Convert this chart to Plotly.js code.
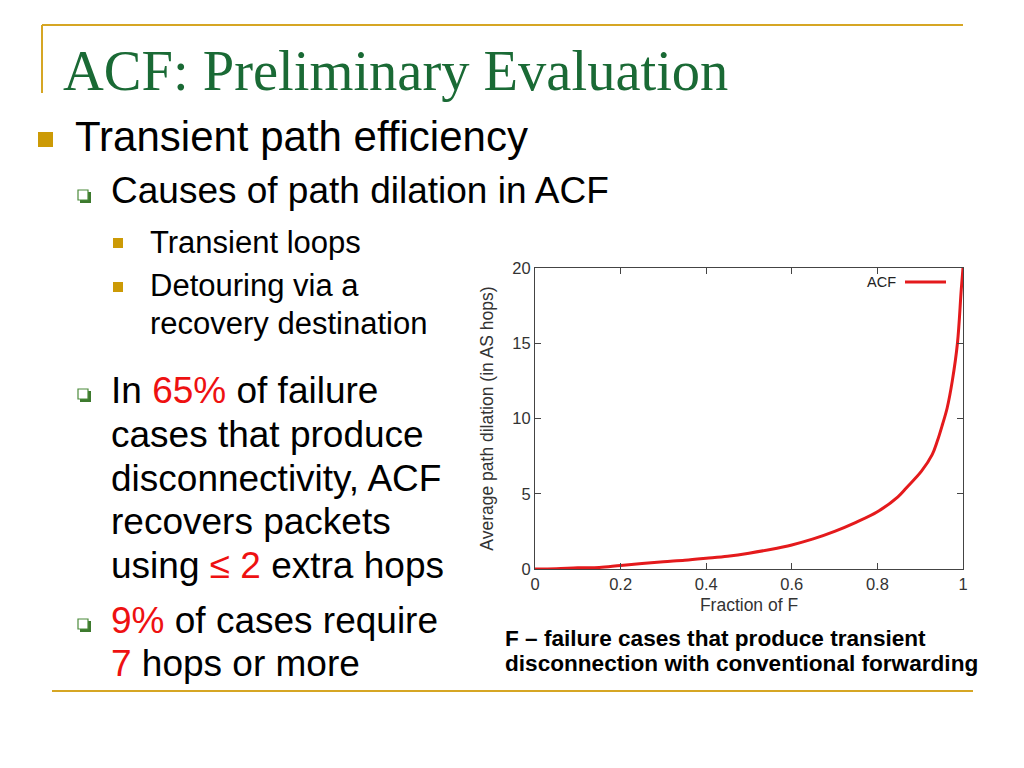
<!DOCTYPE html>
<html>
<head>
<meta charset="utf-8">
<script src="https://cdn.plot.ly/plotly-3.0.1.min.js"></script>
<style>html,body{margin:0;padding:0;background:#fff;}#chart{width:1024px;height:768px;}</style>
</head>
<body>
<div id="chart"></div>
<script>
// ---- data ----
var fraction = [0, 0.05, 0.1, 0.15, 0.2, 0.25, 0.3, 0.35, 0.4, 0.45, 0.5, 0.55, 0.6, 0.65, 0.7, 0.75, 0.8, 0.848, 0.868, 0.903, 0.928, 0.94, 0.952, 0.963, 0.975, 0.987, 0.996, 1.0];
var dilation = [0, 0.02, 0.08, 0.1, 0.24, 0.36, 0.48, 0.58, 0.71, 0.85, 1.05, 1.3, 1.6, 2.0, 2.5, 3.1, 3.8, 4.8, 5.4, 6.5, 7.6, 8.5, 9.6, 10.7, 12.5, 15.0, 18.6, 20];
var xTicks = [0, 0.2, 0.4, 0.6, 0.8, 1];
var xTickLabels = ["0", "0.2", "0.4", "0.6", "0.8", "1"];
var yTicks = [0, 5, 10, 15, 20];
var yTickLabels = ["0", "5", "10", "15", "20"];
var seriesName = "ACF";

var W = 1024, H = 768;
function px(x) { return x / W; }
function py(y) { return 1 - y / H; }

var GOLD = "#d6a624";
var BULLET = "#cc9a06";
var GREEN = "#1a6a35";
var RED = "#ee1111";
var SANS = "Liberation Sans, Arial, sans-serif";

var trace = {
  x: fraction, y: dilation, type: "scatter", mode: "lines", name: seriesName,
  line: {color: "#e41a1c", width: 3, shape: "spline", smoothing: 1},
  showlegend: false
};

function txt(t, x, y, size, opts) {
  opts = opts || {};
  return {
    text: t, xref: "paper", yref: "paper", x: px(x), y: py(y),
    xanchor: opts.xanchor || "left", yanchor: "middle", showarrow: false,
    font: {family: opts.family || SANS, size: size, color: opts.color || "#000"}
  };
}
function red(s) { return '<span style="color:' + RED + '">' + s + '</span>'; }

var annotations = [
  txt("ACF: Preliminary Evaluation", 61, 71, 56.5, {family: "Liberation Serif, Times New Roman, serif", color: GREEN}),
  txt("Transient path efficiency", 73, 137, 42),
  txt("Causes of path dilation in ACF", 109, 191, 37),
  txt("Transient loops", 148, 242, 31),
  txt("Detouring via a", 148, 286, 31),
  txt("recovery destination", 148, 323, 31),
  txt("In " + red("65%") + " of failure", 109, 390, 37),
  txt("cases that produce", 109, 434, 37),
  txt("disconnectivity, ACF", 109, 478, 37),
  txt("recovers packets", 109, 521, 37),
  txt("using " + red("≤ 2") + " extra hops", 109, 565, 37),
  txt(red("9%") + " of cases require", 109, 620, 37),
  txt(red("7") + " hops or more", 109, 663, 37),
  txt("<b>F – failure cases that produce transient</b>", 503, 638, 22.6),
  txt("<b>disconnection with conventional forwarding</b>", 503, 663, 22.6),
  // legend
  txt(seriesName, 898, 282, 14.5, {xanchor: "right", color: "#222"})
];

var shapes = [
  // frame lines
  {type: "line", xref: "paper", yref: "paper", x0: px(42), x1: px(963), y0: py(25), y1: py(25), line: {color: GOLD, width: 2}},
  {type: "line", xref: "paper", yref: "paper", x0: px(42), x1: px(42), y0: py(25), y1: py(93), line: {color: GOLD, width: 2}},
  {type: "line", xref: "paper", yref: "paper", x0: px(52), x1: px(973), y0: py(691), y1: py(691), line: {color: GOLD, width: 2}},
  // level-1 bullet
  {type: "rect", xref: "paper", yref: "paper", x0: px(38), x1: px(53), y0: py(132), y1: py(147), fillcolor: BULLET, line: {width: 0}},
  // level-3 bullets
  {type: "rect", xref: "paper", yref: "paper", x0: px(113), x1: px(123), y0: py(238), y1: py(248), fillcolor: BULLET, line: {width: 0}},
  {type: "rect", xref: "paper", yref: "paper", x0: px(113), x1: px(123), y0: py(282), y1: py(292), fillcolor: BULLET, line: {width: 0}},
  // legend sample line
  {type: "line", xref: "paper", yref: "paper", x0: px(905), x1: px(946), y0: py(282), y1: py(282), line: {color: "#e41a1c", width: 3}}
];
// hollow level-2 bullets with shadow
[195, 394, 624].forEach(function (cy) {
  shapes.push({type: "rect", xref: "paper", yref: "paper", x0: px(80), x1: px(91), y0: py(cy - 3), y1: py(cy + 8), fillcolor: "#3d7a2e", line: {width: 0}});
  shapes.push({type: "rect", xref: "paper", yref: "paper", x0: px(78), x1: px(88), y0: py(cy - 5), y1: py(cy + 5), fillcolor: "#ffffff", line: {color: "#4b8a3a", width: 1.2}});
});

var axisCommon = {
  showline: true, linecolor: "#444", linewidth: 1, mirror: "ticks",
  ticks: "inside", ticklen: 6, tickcolor: "#444", tickwidth: 1,
  showgrid: false, zeroline: false,
  tickfont: {family: SANS, size: 16.5, color: "#333"}
};

var layout = {
  width: W, height: H,
  margin: {l: 0, r: 0, t: 0, b: 0},
  paper_bgcolor: "#fff", plot_bgcolor: "#fff",
  showlegend: false,
  xaxis: Object.assign({}, axisCommon, {
    domain: [px(535), px(963)], range: [0, 1],
    tickvals: xTicks, ticktext: xTickLabels,
    title: {text: "Fraction of F", font: {family: SANS, size: 17.5, color: "#333"}, standoff: 6}
  }),
  yaxis: Object.assign({}, axisCommon, {
    domain: [py(569), py(268)], range: [0, 20],
    tickvals: yTicks, ticktext: yTickLabels,
    title: {text: "Average path dilation (in AS hops)", font: {family: SANS, size: 17.5, color: "#333"}, standoff: 14}
  }),
  annotations: annotations,
  shapes: shapes
};

Plotly.newPlot("chart", [trace], layout, {staticPlot: true, displayModeBar: false});
</script>
</body>
</html>
